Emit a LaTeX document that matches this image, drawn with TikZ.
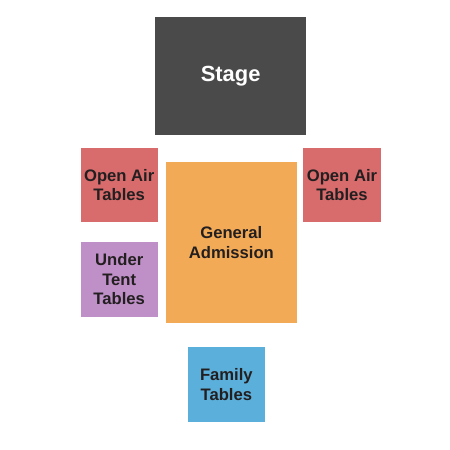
\documentclass[tikz,border=0pt]{standalone}
\usepackage{fontspec}
\setmainfont{Liberation Sans}
\definecolor{stagec}{HTML}{4A4A4A}
\definecolor{redc}{HTML}{D86B6C}
\definecolor{orangec}{HTML}{F2AA57}
\definecolor{purplec}{HTML}{BF8FC8}
\definecolor{bluec}{HTML}{5BAFDB}
\definecolor{txt}{HTML}{231F20}
\tikzset{
  sect/.style={inner sep=0pt, outer sep=0pt, align=center, text=txt,
    font=\fontsize{16.7}{19.9}\selectfont\bfseries},
}
\newcommand{\sectbox}[6]{% name, x1, y1, x2, y2, color
  \fill[#6] (#2bp,{(450-#3)*1bp}) rectangle (#4bp,{(450-#5)*1bp});
  \coordinate (#1) at ({(#2+#4)/2*1bp},{(450-(#3+#5)/2)*1bp});
}
\begin{document}
\begin{tikzpicture}[x=1bp,y=1bp]
\useasboundingbox (0,0) rectangle (450,450);
\fill[white] (0,0) rectangle (450,450);
\sectbox{cstage}{155.3}{17.3}{306}{135}{stagec}
\sectbox{coatl}{80.7}{147.7}{157.7}{222.3}{redc}
\sectbox{coatr}{303.3}{147.7}{380.7}{222.3}{redc}
\sectbox{cga}{166}{162.3}{296.7}{322.7}{orangec}
\sectbox{cut}{80.7}{241.7}{157.7}{316.7}{purplec}
\sectbox{cfam}{187.7}{347.3}{265}{422.3}{bluec}
\node[sect, text=white, font=\fontsize{22}{25}\selectfont\bfseries] (stage) at (cstage) {Stage};
\node[sect] (oatl) at (coatl) {Open Air\\Tables};
\node[sect] (oatr) at (coatr) {Open Air\\Tables};
\node[sect] (ga) at (cga) {General\\Admission};
\node[sect] (ut) at (cut) {Under\\Tent\\Tables};
\node[sect] (fam) at (cfam) {Family\\Tables};
\end{tikzpicture}
\end{document}
